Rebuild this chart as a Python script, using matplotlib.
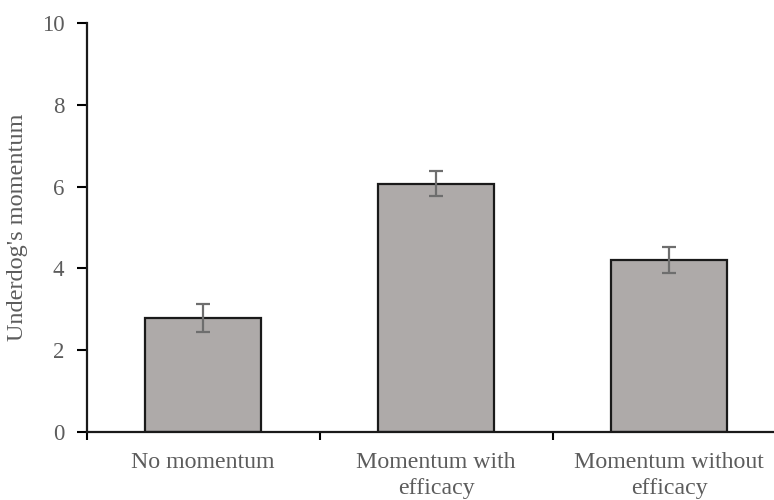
import numpy as np
import matplotlib.pyplot as plt

categories = ["No momentum", "Momentum with\nefficacy", "Momentum without\nefficacy"]
means = [2.79, 6.07, 4.21]
errors = [0.35, 0.31, 0.32]

plt.rcParams['font.family'] = ['Liberation Serif', 'DejaVu Serif']

fig = plt.figure(figsize=(7.74, 5.0), dpi=100)
ax = fig.add_axes([86.5/774, 67.7/500, 1 - 86.5/774, (432.3 - 22.7)/500])

x = np.arange(len(categories))
ax.bar(x, means, width=0.5, color='#aeaaa9', edgecolor='#1a1a1a', linewidth=1.6, zorder=2)
ax.errorbar(x, means, yerr=errors, fmt='none', ecolor='#6e6e6e', elinewidth=1.6,
            capsize=5, capthick=1.6, zorder=3)

ax.set_yticks([0, 2, 4, 6, 8, 10])

# boundary ticks on x axis, labels at category centers
ax.set_xticks([-0.5, 0.5, 1.5, 2.5])
ax.set_xticklabels([])
ax.set_xticks(x, minor=True)
ax.set_xticklabels(categories, minor=True, linespacing=1.3)
ax.set_xlim(-0.5, 2.45)
ax.set_ylim(0, 10)

ax.tick_params(axis='x', which='minor', length=0, pad=14, labelsize=17.2, labelcolor='#5c5c5c')
ax.tick_params(axis='x', which='major', length=6, width=1.5, direction='out')
ax.tick_params(axis='y', length=7, width=1.5, pad=9, labelsize=16.5, labelcolor='#5c5c5c')

for side in ['top', 'right']:
    ax.spines[side].set_visible(False)
for side in ['left', 'bottom']:
    ax.spines[side].set_linewidth(1.6)
    ax.spines[side].set_color('#1a1a1a')

ax.set_ylabel("Underdog's momentum", fontsize=17.5, color='#5c5c5c', labelpad=10)

fig.savefig('out.png', dpi=100)
